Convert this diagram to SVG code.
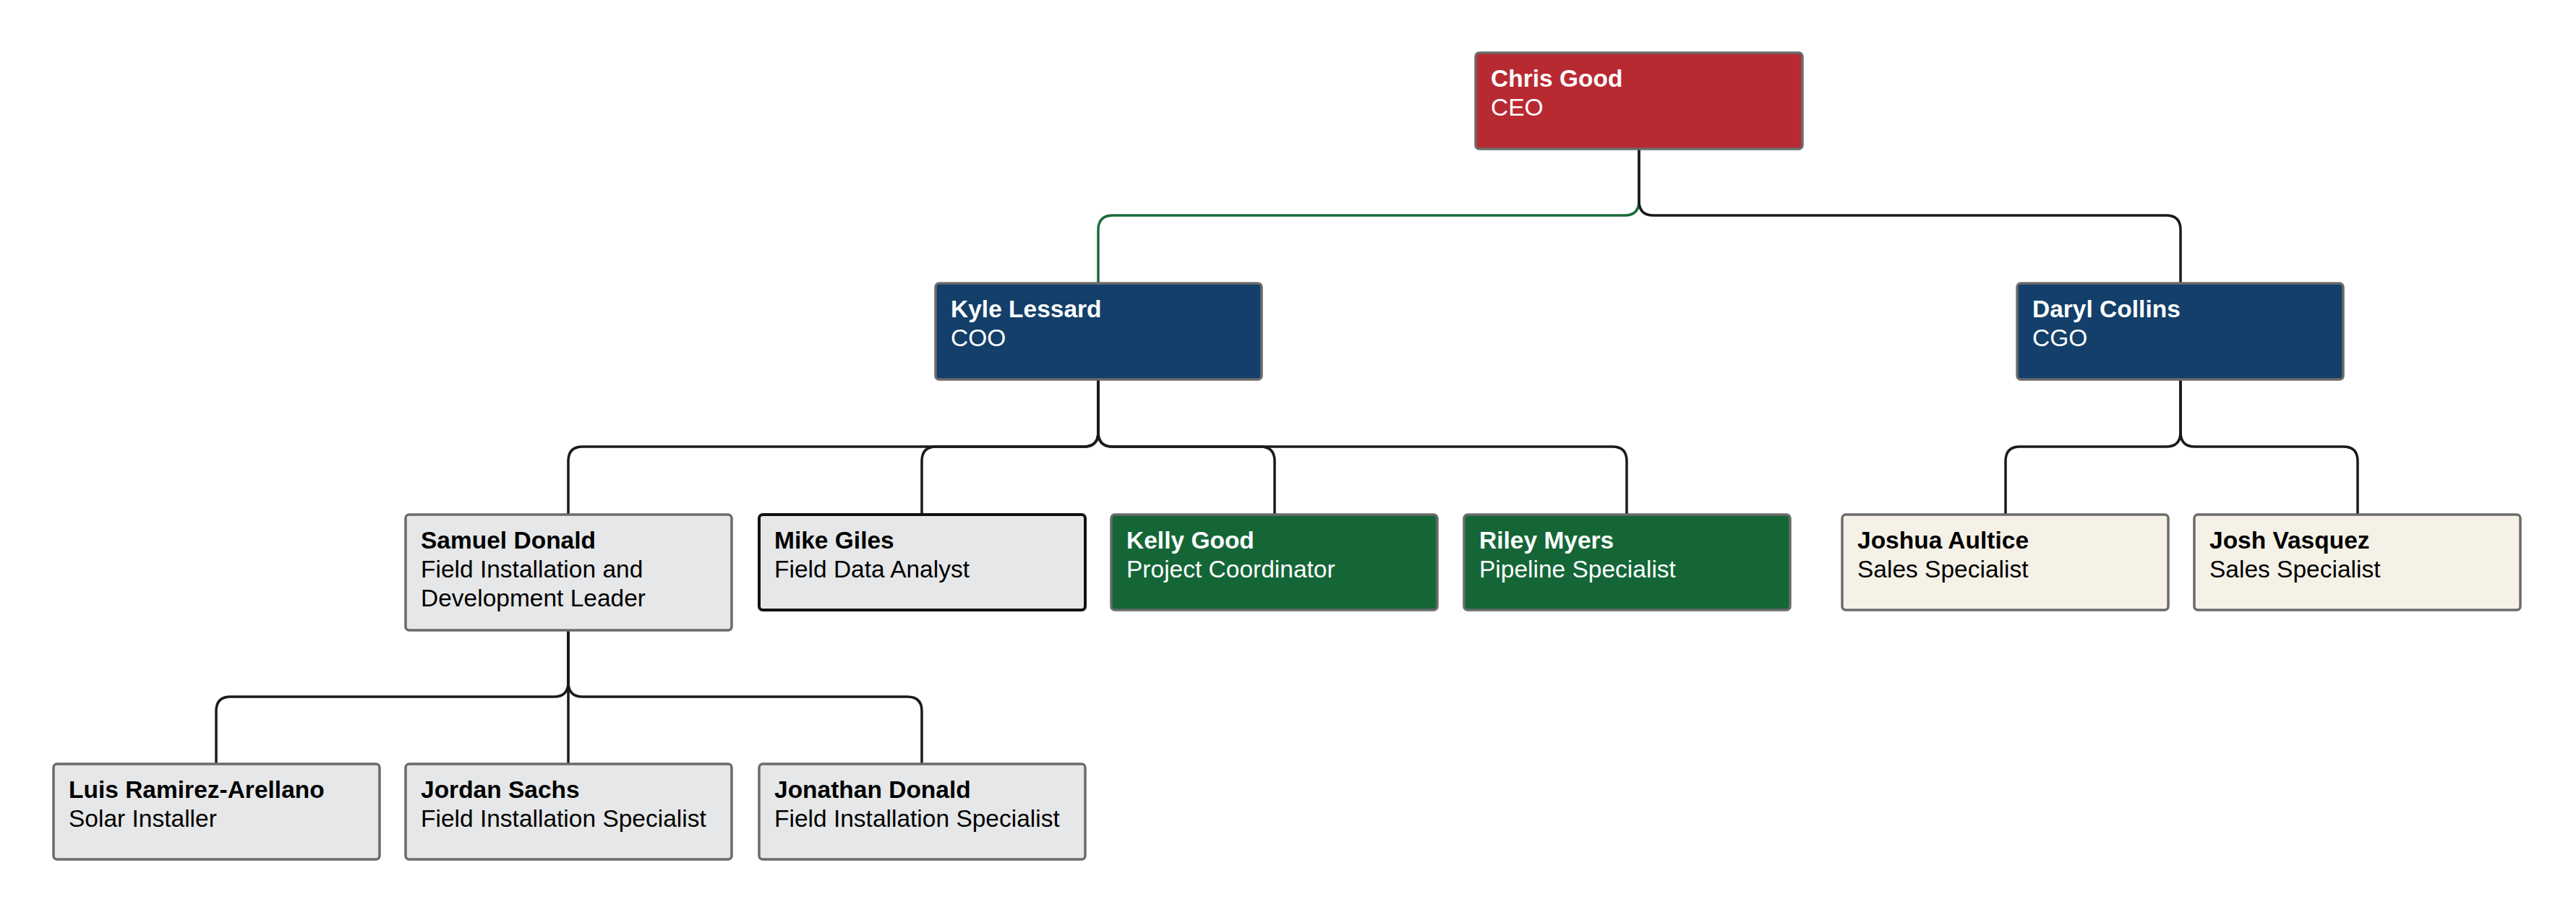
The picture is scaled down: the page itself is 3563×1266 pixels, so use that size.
<svg xmlns="http://www.w3.org/2000/svg" width="3563" height="1266" viewBox="0 0 3563 1266">
<style>
.box{stroke:#6b6b6b;stroke-width:3.5}
.red{fill:#b82a32}
.blue{fill:#133f6a}
.green{fill:#146637}
.gray{fill:#e6e7e8}
.beige{fill:#f5f1e7}
.dark{stroke:#111;stroke-width:4}
text{font-family:"Liberation Sans",Arial,sans-serif;font-size:33.5px}
.n{font-weight:bold}
.w{fill:#ffffff}
.k{fill:#000000}
.conn path{fill:none;stroke:#1a1a1a;stroke-width:3.5}
.conn path.g{stroke:#1a6b3a}
</style>
<rect width="3563" height="1266" fill="#ffffff"/>
<g class="conn" id="connectors">
<path class="g" d="M2267 207 V278 Q2267 298 2247 298 H1539 Q1519 298 1519 318 V392"/>
<path d="M2267 207 V278 Q2267 298 2287 298 H2996 Q3016 298 3016 318 V392"/>
<path d="M1519 525 V598 Q1519 618 1499 618 H806 Q786 618 786 638 V712"/>
<path d="M1519 525 V598 Q1519 618 1499 618 H1295 Q1275 618 1275 638 V712"/>
<path d="M1519 525 V598 Q1519 618 1539 618 H1743 Q1763 618 1763 638 V712"/>
<path d="M1519 525 V598 Q1519 618 1539 618 H2230 Q2250 618 2250 638 V712"/>
<path d="M3016 525 V598 Q3016 618 2996 618 H2794 Q2774 618 2774 638 V712"/>
<path d="M3016 525 V598 Q3016 618 3036 618 H3241 Q3261 618 3261 638 V712"/>
<path d="M786 872 V944 Q786 964 766 964 H319 Q299 964 299 984 V1057"/>
<path d="M786 872 V1057"/>
<path d="M786 872 V944 Q786 964 806 964 H1255 Q1275 964 1275 984 V1057"/>
</g>
<g id="chris-good">
<rect class="box red" x="2041" y="73" width="452" height="133" rx="5"/>
<text class="n w" x="2062" y="120">Chris Good</text>
<text class="w" x="2062" y="160">CEO</text>
</g>
<g id="kyle-lessard">
<rect class="box blue" x="1294" y="392" width="451" height="133" rx="5"/>
<text class="n w" x="1315" y="439">Kyle Lessard</text>
<text class="w" x="1315" y="479">COO</text>
</g>
<g id="daryl-collins">
<rect class="box blue" x="2790" y="392" width="451" height="133" rx="5"/>
<text class="n w" x="2811" y="439">Daryl Collins</text>
<text class="w" x="2811" y="479">CGO</text>
</g>
<g id="samuel-donald">
<rect class="box gray" x="561" y="712" width="451" height="160" rx="5"/>
<text class="n k" x="582" y="759">Samuel Donald</text>
<text class="k" x="582" y="799">Field Installation and</text>
<text class="k" x="582" y="839">Development Leader</text>
</g>
<g id="mike-giles">
<rect class="gray dark" x="1050" y="712" width="451" height="132" rx="5"/>
<text class="n k" x="1071" y="759">Mike Giles</text>
<text class="k" x="1071" y="799">Field Data Analyst</text>
</g>
<g id="kelly-good">
<rect class="box green" x="1537" y="712" width="451" height="132" rx="5"/>
<text class="n w" x="1558" y="759">Kelly Good</text>
<text class="w" x="1558" y="799">Project Coordinator</text>
</g>
<g id="riley-myers">
<rect class="box green" x="2025" y="712" width="451" height="132" rx="5"/>
<text class="n w" x="2046" y="759">Riley Myers</text>
<text class="w" x="2046" y="799">Pipeline Specialist</text>
</g>
<g id="joshua-aultice">
<rect class="box beige" x="2548" y="712" width="451" height="132" rx="5"/>
<text class="n k" x="2569" y="759">Joshua Aultice</text>
<text class="k" x="2569" y="799">Sales Specialist</text>
</g>
<g id="josh-vasquez">
<rect class="box beige" x="3035" y="712" width="451" height="132" rx="5"/>
<text class="n k" x="3056" y="759">Josh Vasquez</text>
<text class="k" x="3056" y="799">Sales Specialist</text>
</g>
<g id="luis-ramirez-arellano">
<rect class="box gray" x="74" y="1057" width="451" height="132" rx="5"/>
<text class="n k" x="95" y="1104">Luis Ramirez-Arellano</text>
<text class="k" x="95" y="1144">Solar Installer</text>
</g>
<g id="jordan-sachs">
<rect class="box gray" x="561" y="1057" width="451" height="132" rx="5"/>
<text class="n k" x="582" y="1104">Jordan Sachs</text>
<text class="k" x="582" y="1144">Field Installation Specialist</text>
</g>
<g id="jonathan-donald">
<rect class="box gray" x="1050" y="1057" width="451" height="132" rx="5"/>
<text class="n k" x="1071" y="1104">Jonathan Donald</text>
<text class="k" x="1071" y="1144">Field Installation Specialist</text>
</g>
</svg>
